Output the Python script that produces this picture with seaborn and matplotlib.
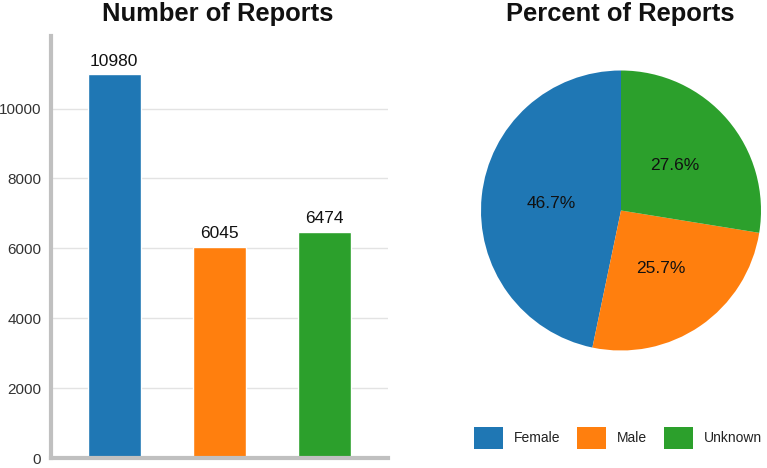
import matplotlib
matplotlib.use("Agg")
import matplotlib.pyplot as plt
import seaborn as sns
import numpy as np
from matplotlib.patches import Patch

categories = ["Female", "Male", "Unknown"]
counts = [10980, 6045, 6474]
colors = ["#1f77b4", "#ff7f0e", "#2ca02c"]
yticks = [0, 2000, 4000, 6000, 8000, 10000]

sns.set_theme(style="white")
FONT = ["Liberation Sans", "DejaVu Sans"]
plt.rcParams["font.family"] = FONT

W, H = 767, 468
fig = plt.figure(figsize=(W / 100, H / 100), dpi=100)

# ---- Bar chart ----
ax = fig.add_axes([51 / W, 1 - 458 / H, (388 - 51) / W, (458 - 36) / H])
sns.barplot(x=categories, y=counts, hue=categories, palette=colors,
            width=0.5, legend=False, ax=ax, saturation=1)
ax.set_xlim(-0.6, 2.6)
ax.set_ylim(0, max(counts) * 1.1)
ax.set_yticks(yticks)
ax.set_yticklabels([str(t) for t in yticks])
ax.set_xticks([])
ax.set_xlabel("")
ax.set_ylabel("")
ax.yaxis.grid(True, color="#e3e3e3", lw=1)
ax.set_axisbelow(True)
for s in ["top", "right"]:
    ax.spines[s].set_visible(False)
for s in ["left", "bottom"]:
    ax.spines[s].set_color("#c0c0c0")
    ax.spines[s].set_linewidth(3)
ax.tick_params(axis="y", length=0, pad=7, labelsize=11, labelcolor="#333333")
for c in ax.containers:
    ax.bar_label(c, padding=4, fontsize=12.5, color="#111111")

fig.text(218 / W, 1 - 21 / H, "Number of Reports", ha="center", va="baseline",
         fontsize=18.4, fontweight="bold", color="#111111")

# ---- Pie chart ----
R = 140
pax = fig.add_axes([(621 - R) / W, 1 - (210.5 + R) / H, 2 * R / W, 2 * R / H])
wedges, texts, autotexts = pax.pie(counts, colors=colors, startangle=90,
                                   counterclock=True, autopct="%1.1f%%",
                                   pctdistance=0.5,
                                   wedgeprops=dict(linewidth=0, edgecolor="none"),
                                   textprops=dict(fontsize=12.5, color="#111111"))
pax.set_xlim(-1, 1)
pax.set_ylim(-1, 1)
pax.set_aspect("equal")
pax.axis("off")

fig.text(620 / W, 1 - 21 / H, "Percent of Reports", ha="center", va="baseline",
         fontsize=18.4, fontweight="bold", color="#111111")

handles = [Patch(facecolor=c, edgecolor="none") for c in colors]
fig.legend(handles, categories, loc="center", bbox_to_anchor=(618 / W, 1 - 438 / H),
           ncol=3, frameon=False, fontsize=10, handlelength=2.1, handleheight=2.1,
           handletextpad=0.8, columnspacing=1.2, labelcolor="#222222",
           borderpad=0, borderaxespad=0)

fig.savefig("out.png", dpi=100)
